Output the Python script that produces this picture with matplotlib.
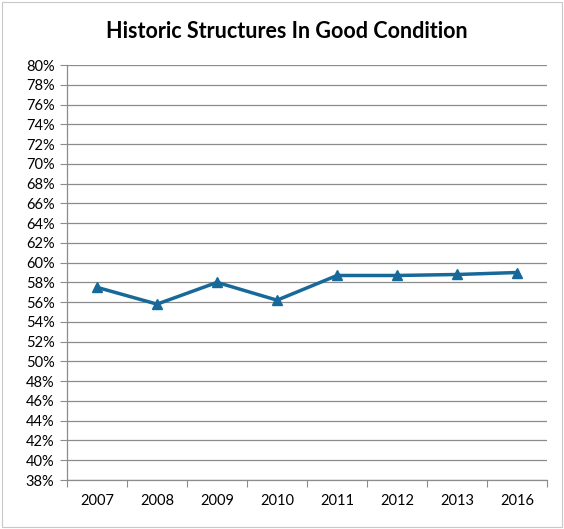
import matplotlib
matplotlib.use("Agg")
import matplotlib.pyplot as plt
import matplotlib.patches as mpatches
from matplotlib.ticker import FixedLocator, NullFormatter

years = ["2007", "2008", "2009", "2010", "2011", "2012", "2013", "2016"]
good_pct = [57.5, 55.8, 58.0, 56.2, 58.7, 58.7, 58.8, 59.0]
y_ticks = list(range(38, 81, 2))

plt.rcParams["font.family"] = ["Lato", "DejaVu Sans"]

fig = plt.figure(figsize=(5.64, 5.29), dpi=100)
ax = fig.add_axes([0.1188, 0.0926, 0.8512, 0.7845])

x = list(range(len(years)))
ax.plot(x, good_pct, color="#17699A", lw=2.5, marker="^", markersize=6.5,
        zorder=3, clip_on=False)

ax.set_xlim(-0.5, len(years) - 0.5)
ax.set_ylim(38, 80)
ax.set_yticks(y_ticks)
ax.set_yticklabels([f"{t}%" for t in y_ticks], fontsize=10.5)
ax.yaxis.grid(True, color="#8c8c8c", lw=0.9)
ax.set_axisbelow(True)

# category boundaries as major ticks, labels at centers
ax.xaxis.set_major_locator(FixedLocator([i - 0.5 for i in range(len(years) + 1)]))
ax.xaxis.set_major_formatter(NullFormatter())
ax.xaxis.set_minor_locator(FixedLocator(x))
ax.set_xticklabels(years, minor=True, fontsize=10.5)
ax.tick_params(axis="x", which="minor", length=0, pad=10)
ax.tick_params(axis="x", which="major", length=5, color="#8c8c8c", direction="out")
ax.tick_params(axis="y", length=5, color="#8c8c8c", direction="out", pad=4)

for side in ("top", "right"):
    ax.spines[side].set_visible(False)
for side in ("left", "bottom"):
    ax.spines[side].set_color("#8c8c8c")
    ax.spines[side].set_linewidth(0.9)

fig.text(0.508, 0.94, "Historic Structures In Good Condition", ha="center",
         va="center", fontsize=15.5, fontweight="bold")

fig.patches.append(mpatches.Rectangle((0.004, 0.004), 0.992, 0.992,
                                      transform=fig.transFigure, fill=False,
                                      edgecolor="#c8c8c8", lw=0.8))

fig.savefig("out.png", dpi=100)
